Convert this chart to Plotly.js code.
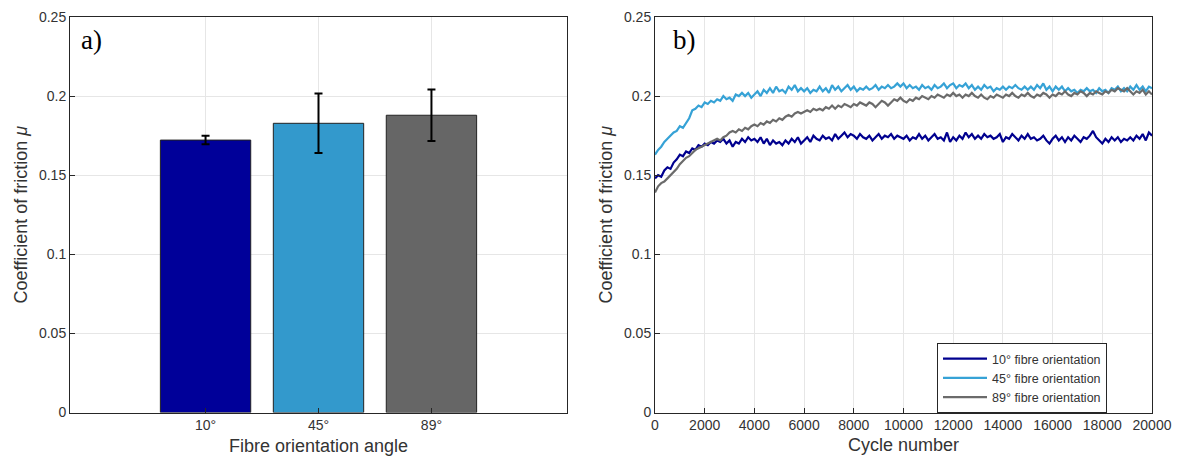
<!DOCTYPE html>
<html>
<head>
<meta charset="utf-8">
<script src="https://cdn.plot.ly/plotly-3.0.1.min.js"></script>
<style>
html,body{margin:0;padding:0;background:#fff;}
#chart{width:1182px;height:459px;}
</style>
</head>
<body>
<div id="chart"></div>
<script>
// ---- Panel a) data ----
const angleLabels = ["10°", "45°", "89°"];
const meanCoF = [0.1722, 0.1828, 0.1879];
const errCoF = [0.0027, 0.0188, 0.0163];
const barColors = ["#000099", "#3399cc", "#666666"];

// ---- Panel b) data (sampled every 125 cycles, 0..20000) ----
const cycleStep = 125;
const cof10 = [
0.148,0.150,0.149,0.153,0.155,0.154,0.158,0.160,0.163,0.162,0.165,0.164,0.167,0.166,0.169,0.168,
0.170,0.169,0.171,0.170,0.172,0.171,0.173,0.170,0.172,0.168,0.171,0.170,0.173,0.171,0.174,0.172,
0.173,0.171,0.174,0.170,0.173,0.169,0.172,0.170,0.171,0.169,0.172,0.170,0.173,0.171,0.174,0.170,
0.172,0.174,0.171,0.175,0.173,0.172,0.175,0.173,0.174,0.172,0.176,0.173,0.175,0.177,0.174,0.176,
0.175,0.173,0.176,0.174,0.173,0.175,0.172,0.174,0.176,0.173,0.175,0.174,0.176,0.173,0.175,0.174,
0.173,0.175,0.172,0.174,0.173,0.176,0.173,0.175,0.172,0.174,0.176,0.173,0.174,0.172,0.177,0.171,
0.174,0.172,0.175,0.173,0.177,0.174,0.176,0.173,0.175,0.173,0.176,0.174,0.175,0.173,0.174,0.176,
0.171,0.174,0.173,0.176,0.174,0.172,0.175,0.173,0.176,0.173,0.174,0.172,0.173,0.175,0.172,0.170,
0.173,0.175,0.172,0.174,0.171,0.174,0.172,0.175,0.173,0.171,0.174,0.173,0.175,0.178,0.174,0.172,
0.170,0.173,0.171,0.174,0.172,0.174,0.171,0.173,0.172,0.174,0.172,0.175,0.173,0.176,0.172,0.177,
0.175];
const cof45 = [
0.163,0.166,0.168,0.171,0.173,0.175,0.177,0.178,0.181,0.180,0.183,0.186,0.191,0.192,0.194,0.193,
0.196,0.195,0.197,0.196,0.198,0.197,0.200,0.198,0.199,0.197,0.201,0.200,0.202,0.200,0.202,0.199,
0.201,0.203,0.200,0.204,0.202,0.205,0.202,0.206,0.203,0.204,0.202,0.206,0.204,0.207,0.203,0.205,
0.203,0.205,0.202,0.204,0.203,0.206,0.203,0.205,0.202,0.207,0.204,0.206,0.203,0.205,0.207,0.204,
0.206,0.203,0.205,0.204,0.206,0.204,0.205,0.207,0.204,0.206,0.205,0.207,0.205,0.206,0.208,0.206,
0.208,0.205,0.207,0.205,0.206,0.204,0.207,0.205,0.206,0.204,0.207,0.205,0.206,0.208,0.205,0.207,
0.208,0.205,0.207,0.206,0.208,0.205,0.207,0.204,0.206,0.204,0.207,0.205,0.206,0.203,0.205,0.204,
0.206,0.204,0.206,0.205,0.207,0.205,0.204,0.206,0.204,0.206,0.204,0.207,0.205,0.208,0.204,0.206,
0.203,0.206,0.204,0.206,0.203,0.205,0.203,0.204,0.202,0.204,0.203,0.205,0.203,0.204,0.202,0.205,
0.203,0.204,0.202,0.205,0.204,0.206,0.203,0.205,0.203,0.206,0.204,0.207,0.204,0.206,0.203,0.206,
0.205];
const cof89 = [
0.139,0.143,0.145,0.146,0.148,0.150,0.152,0.154,0.157,0.159,0.161,0.162,0.164,0.166,0.167,0.168,
0.169,0.170,0.171,0.172,0.173,0.172,0.174,0.175,0.177,0.178,0.177,0.179,0.178,0.180,0.179,0.181,
0.182,0.181,0.183,0.182,0.184,0.183,0.185,0.184,0.186,0.185,0.187,0.188,0.187,0.189,0.190,0.189,
0.190,0.191,0.190,0.192,0.191,0.192,0.191,0.193,0.192,0.194,0.192,0.194,0.193,0.195,0.194,0.193,
0.195,0.194,0.196,0.195,0.194,0.196,0.195,0.193,0.195,0.197,0.196,0.194,0.196,0.198,0.197,0.199,
0.197,0.196,0.198,0.197,0.199,0.198,0.200,0.199,0.198,0.200,0.199,0.201,0.200,0.199,0.201,0.200,
0.202,0.200,0.201,0.199,0.201,0.200,0.202,0.200,0.199,0.201,0.199,0.198,0.200,0.199,0.201,0.200,
0.199,0.201,0.200,0.202,0.200,0.199,0.201,0.200,0.202,0.200,0.199,0.201,0.200,0.202,0.201,0.199,
0.201,0.200,0.202,0.201,0.203,0.201,0.200,0.202,0.201,0.203,0.202,0.200,0.202,0.201,0.203,0.202,
0.201,0.203,0.202,0.204,0.203,0.205,0.204,0.203,0.205,0.203,0.201,0.203,0.202,0.204,0.201,0.203,
0.201];
const seriesNames = ["10° fibre orientation", "45° fibre orientation", "89° fibre orientation"];
const lineColors = ["#00008f", "#36a2d6", "#6b6b6b"];

const cycles = cof10.map((_, i) => i * cycleStep);

const W = 1182, H = 459;
const px = v => v / W, py = v => 1 - v / H;
const sans = "Liberation Sans, Arial, sans-serif";
const ink = "#333333";

const axisCommon = {
  showline: true, mirror: true, linecolor: "#262626", linewidth: 1,
  ticks: "inside", ticklen: 5, tickcolor: "#262626",
  tickfont: {family: sans, size: 14, color: ink},
  showgrid: true, gridcolor: "#e6e6e6", gridwidth: 1, zeroline: false
};
const titleFont = {family: sans, size: 18, color: ink};
const yTicks = [0, 0.05, 0.1, 0.15, 0.2, 0.25];
const yTickText = ["0", "0.05", "0.1", "0.15", "0.2", "0.25"];
const cycleTicks = [0,2000,4000,6000,8000,10000,12000,14000,16000,18000,20000];

const traces = [
  {
    type: "bar", x: [1, 2, 3], y: meanCoF, width: 0.8,
    marker: {color: barColors, line: {color: "#222", width: 1}},
    error_y: {type: "data", array: errCoF, visible: true, color: "#000", thickness: 2, width: 4},
    xaxis: "x", yaxis: "y", showlegend: false, hoverinfo: "skip"
  }
];
[cof10, cof45, cof89].forEach((s, k) => {
  traces.push({
    type: "scatter", mode: "lines", x: cycles, y: s, name: seriesNames[k],
    line: {color: lineColors[k], width: 2.2},
    xaxis: "x2", yaxis: "y2"
  });
});

const layout = {
  width: W, height: H,
  margin: {l: 0, r: 0, t: 0, b: 0},
  paper_bgcolor: "#fff", plot_bgcolor: "#fff",
  showlegend: true,
  xaxis: Object.assign({}, axisCommon, {
    domain: [px(70), px(567)], range: [-0.2, 4.2],
    tickmode: "array", tickvals: [1, 2, 3], ticktext: angleLabels,
    title: {text: "Fibre orientation angle", font: titleFont, standoff: 7}
  }),
  yaxis: Object.assign({}, axisCommon, {
    domain: [py(412.5), py(17)], range: [0, 0.25],
    tickmode: "array", tickvals: yTicks, ticktext: yTickText,
    title: {text: "Coefficient of friction <i>μ</i>", font: titleFont, standoff: 6}
  }),
  xaxis2: Object.assign({}, axisCommon, {
    domain: [px(655), px(1152)], range: [0, 20000], anchor: "y2",
    tickmode: "array", tickvals: cycleTicks, ticktext: cycleTicks.map(String),
    title: {text: "Cycle number", font: titleFont, standoff: 6}
  }),
  yaxis2: Object.assign({}, axisCommon, {
    domain: [py(412.5), py(17)], range: [0, 0.25], anchor: "x2",
    tickmode: "array", tickvals: yTicks, ticktext: yTickText,
    title: {text: "Coefficient of friction <i>μ</i>", font: titleFont, standoff: 6}
  }),
  legend: {
    x: px(937), y: py(343), xanchor: "left", yanchor: "top",
    bgcolor: "#fff", bordercolor: "#262626", borderwidth: 1,
    font: {family: sans, size: 12.5, color: ink},
    tracegroupgap: 0, itemwidth: 44
  },
  annotations: [
    {text: "a)", xref: "paper", yref: "paper", x: px(79), y: py(40), xanchor: "left", yanchor: "middle",
     showarrow: false, font: {family: "Liberation Serif, Times New Roman, serif", size: 27, color: "#000"}},
    {text: "b)", xref: "paper", yref: "paper", x: px(671), y: py(40), xanchor: "left", yanchor: "middle",
     showarrow: false, font: {family: "Liberation Serif, Times New Roman, serif", size: 27, color: "#000"}}
  ]
};

Plotly.newPlot("chart", traces, layout, {displayModeBar: false, staticPlot: true});
</script>
</body>
</html>
